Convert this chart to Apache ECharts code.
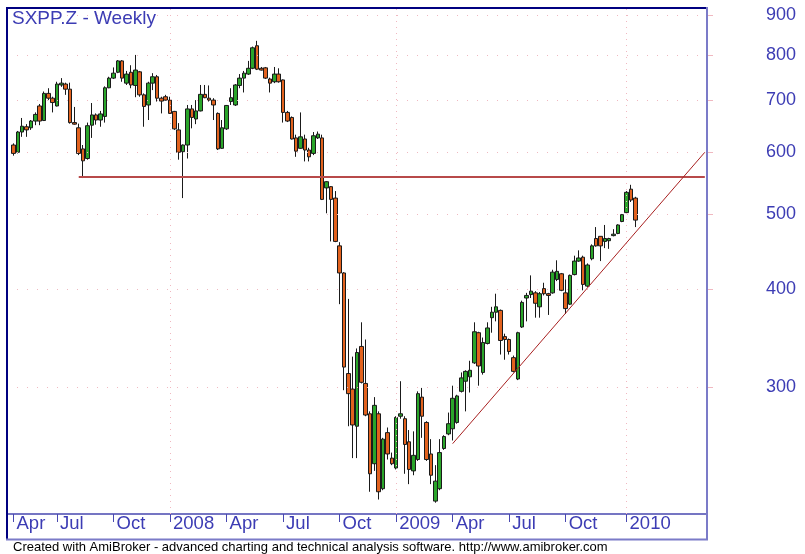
<!DOCTYPE html>
<html>
<head>
<meta charset="utf-8">
<script src="https://cdn.jsdelivr.net/npm/echarts@6/dist/echarts.min.js"></script>
<style>
html,body{margin:0;padding:0;background:#ffffff;}
#c{width:805px;height:554px;}
</style>
</head>
<body>
<div id="c"></div>
<script>
// ---- data (weekly bars) ----
const chartTitle = 'SXPP.Z - Weekly';
const footerText = 'Created with AmiBroker - advanced charting and technical analysis software. http://www.amibroker.com';
const firstBarDate = '2007-04-27';          // Friday of the first weekly bar
const tradingDayFix = {'2010-01-01': '2009-12-31'};
const leadWeeks = 1;                          // empty week before the first bar
const trailWeeks = 16;                        // empty weeks after the last bar

const open = [613,600,637,647,645,658,688,659,714,704, 688,732,734,723,655,645,606,589,650,670,
  660,667,726,747,760,786,736,760,731,761, 711,690,736,750,704,707,700,677,641,601,
  613,682,662,678,712,704,700,673,607,643, 697,690,731,747,756,769,822,769,770,745,
  739,756,743,675,665,626,607,624,604,598, 626,626,540,542,524,455,420,312,298,267,
  338,303,277,239,277,222,262,243,236,275, 273,255,234,242,291,270,246,214,222,250,
  261,265,270,296,305,309,322,352,313,341, 368,374,376,348,345,327,307,358,390,394,
  396,380,401,395,396,412,419,396,383,418, 435,440,404,438,465,468,461,462,469,472,
  489,502,538,524];
const close = [598,637,648,641,658,671,658,714,704,695, 734,736,723,655,652,598,585,649,670,660,
  672,726,747,758,786,747,756,732,765,711, 687,736,750,704,698,700,673,643,600,613,
  682,665,678,712,705,700,690,606,645,689, 705,732,747,758,769,817,767,765,747,736,
  756,739,675,658,624,602,628,604,592,630, 633,522,550,522,461,420,318,294,268,332,
  304,276,232,284,220,257,246,239,274,277, 253,235,245,294,275,242,231,227,247,259,
  269,290,292,308,314,315,353,319,342,357, 374,380,344,345,333,314,352,385,393,398,
  384,395,395,393,421,422,399,378,417,435, 439,406,430,455,455,455,465,465,471,484,
  499,533,521,491];
const low = [594,598,628,628,641,650,650,658,700,675, 687,728,711,653,651,595,556,587,626,651,
  647,655,725,745,758,739,732,725,706,707, 647,660,721,697,673,699,672,641,587,524,
  589,644,652,677,704,697,660,604,606,641, 690,688,725,716,754,767,765,764,745,716,
  736,737,655,656,623,592,606,584,584,595, 624,521,501,461,460,383,297,267,243,243,
  303,275,220,234,215,221,242,238,235,273, 232,225,231,241,258,241,225,213,221,249,
  260,256,269,295,279,295,321,301,311,340, 352,364,330,325,330,313,306,357,364,390,
  368,368,393,371,395,410,398,372,382,417, 434,399,403,436,454,435,452,451,468,471,
  488,501,518,481];
const high = [616,639,664,652,660,675,692,718,725,707, 739,747,737,737,686,653,613,655,694,673,
  678,729,750,771,788,788,763,776,800,763, 714,739,758,754,707,711,707,678,654,614,
  690,690,700,732,732,731,704,675,660,690, 725,734,756,763,786,820,834,772,772,748,
  772,769,744,678,667,632,675,632,608,637, 638,632,551,543,535,460,421,389,328,336,
  363,345,279,291,279,258,266,247,275,305, 275,264,263,296,299,271,257,238,257,260,
  278,301,293,313,315,324,363,353,347,363, 380,395,377,351,346,329,353,387,396,417,
  398,397,408,396,424,436,420,412,418,442, 449,442,432,457,481,468,484,466,478,485,
  500,535,545,526];

const yTickValues = [300, 400, 500, 600, 700, 800, 900];
const monthNames = ['Jan','Feb','Mar','Apr','May','Jun','Jul','Aug','Sep','Oct','Nov','Dec'];

// horizontal support line and rising trend line (bar index, price)
const supportLine = {fromBar: 15, toBar: 159, value: 558};
const trendLine = {fromBar: 101, fromValue: 253.6, toBar: 159, toValue: 600};

// ---- build categories (consecutive weeks) ----
function addDays(s, n) {
  const d = new Date(s + 'T00:00:00Z');
  return new Date(d.getTime() + n * 86400000).toISOString().slice(0, 10);
}
const nBars = open.length;
const categories = [];
for (let k = -leadWeeks; k < nBars + trailWeeks; k++) {
  let s = addDays(firstBarDate, 7 * k);
  if (tradingDayFix[s]) s = tradingDayFix[s];
  categories.push(s);
}
const barDates = categories.slice(leadWeeks, leadWeeks + nBars);
// quarter labels at first bar of Jan/Apr/Jul/Oct
const labelAt = {};
const yearCats = [];
for (let i = 0; i < nBars; i++) {
  const m = +barDates[i].slice(5, 7) - 1;
  const pm = i > 0 ? +barDates[i - 1].slice(5, 7) - 1 : -1;
  if (m !== pm && m % 3 === 0) {
    labelAt[i + leadWeeks] = m === 0 ? barDates[i].slice(0, 4) : monthNames[m];
    if (m === 0) yearCats.push(categories[i + leadWeeks]);
  }
}

const candleData = barDates.map((d, i) => [i + leadWeeks, open[i], close[i], low[i], high[i]]);

const FONT = "'Liberation Sans', Arial, sans-serif";
const BLUE = '#3c3cb4';
const GRIDPINK = '#f0b8c0';

const chart = echarts.init(document.getElementById('c'), null, {renderer: 'canvas', width: 805, height: 554});

const option = {
  animation: false,
  backgroundColor: '#ffffff',
  title: {
    text: chartTitle, left: 12, top: 9, padding: 0,
    textStyle: {fontFamily: FONT, fontSize: 19, fontWeight: 'normal', color: BLUE}
  },
  grid: {left: 7, right: 98, top: 8, bottom: 40, containLabel: false},
  xAxis: {
    type: 'category', data: categories, boundaryGap: true,
    axisLine: {show: true, lineStyle: {color: '#4848b0', width: 1.5}},
    axisTick: {show: true, alignWithLabel: true, interval: (i) => !!labelAt[i], length: 8,
      lineStyle: {color: '#4848b0', width: 1}},
    axisLabel: {show: true, interval: (i) => !!labelAt[i], formatter: (v, i) => labelAt[i] || '',
      align: 'left', margin: 0, padding: [0, 0, 0, 3], color: BLUE, fontSize: 18.5, fontFamily: FONT},
    splitLine: {show: false}
  },
  yAxis: {
    type: 'log', logBase: 10, min: 206, max: 919, position: 'right',
    axisLine: {show: false},
    axisTick: {show: true, customValues: yTickValues, length: 6, lineStyle: {color: GRIDPINK}},
    axisLabel: {show: true, customValues: yTickValues, margin: 59, align: 'left',
      color: BLUE, fontSize: 18, fontFamily: FONT, formatter: (v) => String(Math.round(v))},
    splitLine: {show: false}
  },
  series: [
    {
      type: 'line', data: [], silent: true, z: 1,
      markLine: {
        silent: true, symbol: ['none', 'none'], animation: false, label: {show: false},
        lineStyle: {color: GRIDPINK, type: [1, 9], width: 1},
        data: yTickValues.map(v => ({yAxis: v}))
      }
    },
    {
      type: 'line', data: [], silent: true, z: 1,
      markLine: {
        silent: true, symbol: ['none', 'none'], animation: false, label: {show: false},
        lineStyle: {color: GRIDPINK, type: [1, 5], width: 1},
        data: yearCats.map(c => ({xAxis: c}))
      }
    },
    {
      type: 'candlestick', data: candleData, encode: {x: 0, y: [1, 2, 3, 4]}, z: 3,
      barWidth: 4,
      itemStyle: {color: '#2aa52a', color0: '#e2621e', borderColor: '#1a1a1a', borderColor0: '#1a1a1a', borderWidth: 1}
    },
    {
      type: 'line', data: [], silent: true, z: 4,
      markLine: {
        silent: true, symbol: ['none', 'none'], animation: false, label: {show: false},
        data: [
          [{coord: [supportLine.fromBar + leadWeeks, supportLine.value], lineStyle: {color: '#b84a4a', width: 2, type: 'solid'}},
           {coord: [supportLine.toBar + leadWeeks, supportLine.value]}],
          [{coord: [trendLine.fromBar + leadWeeks, trendLine.fromValue], lineStyle: {color: '#a82020', width: 1, type: 'solid'}},
           {coord: [trendLine.toBar + leadWeeks, trendLine.toValue]}]
        ]
      }
    }
  ],
  graphic: [
    {type: 'line', z: 100, shape: {x1: 7, y1: 8, x2: 707, y2: 8}, style: {stroke: '#000080', lineWidth: 2}},
    {type: 'line', z: 100, shape: {x1: 7, y1: 7, x2: 7, y2: 540}, style: {stroke: '#000080', lineWidth: 2}},
    {type: 'line', z: 100, shape: {x1: 707, y1: 7, x2: 707, y2: 540}, style: {stroke: '#7b7bc8', lineWidth: 2}},
    {type: 'line', z: 100, shape: {x1: 6, y1: 539.5, x2: 708, y2: 539.5}, style: {stroke: '#7b7bc8', lineWidth: 2}},
    {type: 'text', z: 100, left: 13, top: 541,
      style: {text: footerText, font: "13px 'Liberation Sans', Arial, sans-serif", fill: '#000000'}}
  ]
};
chart.setOption(option);
</script>
</body>
</html>
